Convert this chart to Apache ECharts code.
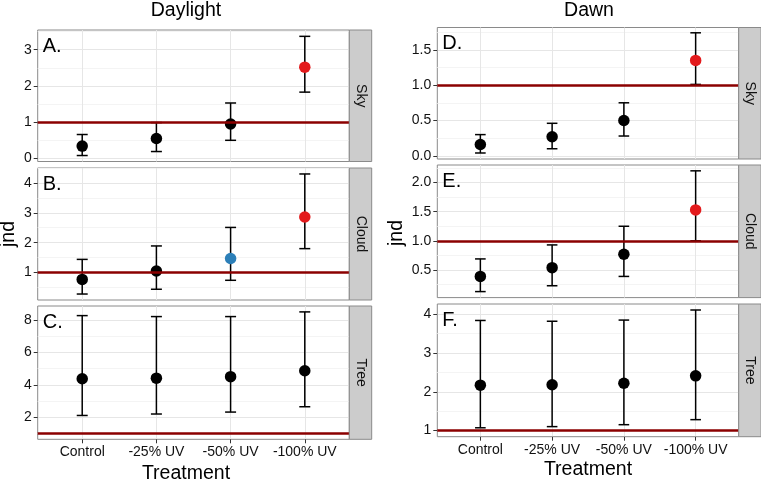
<!DOCTYPE html>
<html>
<head>
<meta charset="utf-8">
<script src="https://cdn.jsdelivr.net/npm/echarts@6/dist/echarts.min.js"></script>
<style>
html,body{margin:0;padding:0;background:#fff;}
#chart{width:761px;height:479px;}
</style>
</head>
<body>
<div id="chart"></div>
<script>
// ---------- data ----------
const categories = ['Control', '-25% UV', '-50% UV', '-100% UV'];
const categoryPos = [1, 2, 3, 4];

// Daylight
const skyDayMean   = [0.34, 0.55, 0.95, 2.52];
const skyDayLo     = [0.08, 0.19, 0.50, 1.83];
const skyDayHi     = [0.66, 0.99, 1.53, 3.37];
const skyDayGroup  = ['ns', 'ns', 'ns', 'above'];

const cloudDayMean  = [0.77, 1.05, 1.47, 2.86];
const cloudDayLo    = [0.28, 0.44, 0.74, 1.80];
const cloudDayHi    = [1.44, 1.89, 2.51, 4.30];
const cloudDayGroup = ['ns', 'ns', 'marginal', 'above'];

const treeDayMean  = [4.37, 4.41, 4.50, 4.87];
const treeDayLo    = [2.10, 2.19, 2.31, 2.64];
const treeDayHi    = [8.28, 8.22, 8.22, 8.51];
const treeDayGroup = ['ns', 'ns', 'ns', 'ns'];

// Dawn
const skyDawnMean  = [0.16, 0.27, 0.50, 1.35];
const skyDawnLo    = [0.04, 0.10, 0.28, 1.01];
const skyDawnHi    = [0.30, 0.46, 0.75, 1.74];
const skyDawnGroup = ['ns', 'ns', 'ns', 'above'];

const cloudDawnMean  = [0.39, 0.54, 0.77, 1.53];
const cloudDawnLo    = [0.13, 0.23, 0.39, 1.00];
const cloudDawnHi    = [0.69, 0.93, 1.25, 2.20];
const cloudDawnGroup = ['ns', 'ns', 'ns', 'above'];

const treeDawnMean  = [2.17, 2.18, 2.22, 2.41];
const treeDawnLo    = [1.07, 1.10, 1.15, 1.28];
const treeDawnHi    = [3.84, 3.82, 3.85, 4.11];
const treeDawnGroup = ['ns', 'ns', 'ns', 'ns'];

// reference line (jnd threshold)
const thresholdValue = 1;

// y tick labels per panel
const skyDayTicks   = [0, 1, 2, 3];
const cloudDayTicks = [1, 2, 3, 4];
const treeDayTicks  = [2, 4, 6, 8];
const skyDawnTicks   = [0, 0.5, 1.0, 1.5];
const cloudDawnTicks = [0.5, 1.0, 1.5, 2.0];
const treeDawnTicks  = [1, 2, 3, 4];

const columnTitles = ['Daylight', 'Dawn'];
const facetNames = ['Sky', 'Cloud', 'Tree'];
const panelLetters = ['A.', 'B.', 'C.', 'D.', 'E.', 'F.'];
const xTitle = 'Treatment';
const yTitle = 'jnd';

// ---------- layout / style ----------
const FONT = 'Liberation Sans, Arial, Helvetica, sans-serif';
const groupColor = { ns: '#000000', above: '#E31A1C', marginal: '#2C7FB8' };

const panels = [
  { mean: skyDayMean, lo: skyDayLo, hi: skyDayHi, grp: skyDayGroup, ticks: skyDayTicks, dec: 0,
    min: -0.085, max: 3.545, box: [37.7, 30, 311.6, 131.5], bottom: false },
  { mean: cloudDayMean, lo: cloudDayLo, hi: cloudDayHi, grp: cloudDayGroup, ticks: cloudDayTicks, dec: 0,
    min: 0.08, max: 4.50, box: [37.7, 168, 311.6, 132], bottom: false },
  { mean: treeDayMean, lo: treeDayLo, hi: treeDayHi, grp: treeDayGroup, ticks: treeDayTicks, dec: 0,
    min: 0.625, max: 8.875, box: [37.7, 306, 311.6, 133.3], bottom: true },
  { mean: skyDawnMean, lo: skyDawnLo, hi: skyDawnHi, grp: skyDawnGroup, ticks: skyDawnTicks, dec: 1,
    min: -0.045, max: 1.815, box: [437.3, 27.5, 301.4, 131.5], bottom: false },
  { mean: cloudDawnMean, lo: cloudDawnLo, hi: cloudDawnHi, grp: cloudDawnGroup, ticks: cloudDawnTicks, dec: 1,
    min: 0.027, max: 2.30, box: [437.3, 165, 301.4, 132.6], bottom: false },
  { mean: treeDawnMean, lo: treeDawnLo, hi: treeDawnHi, grp: treeDawnGroup, ticks: treeDawnTicks, dec: 0,
    min: 0.84, max: 4.265, box: [437.3, 304, 301.4, 132.7], bottom: true }
];

function minorTicks(t) {
  const step = t[1] - t[0];
  const out = [];
  for (let i = -1; i < t.length; i++) {
    const v = (i < 0 ? t[0] - step / 2 : t[i] + step / 2);
    out.push(Math.round(v * 1000) / 1000);
  }
  return out;
}

const grids = [], xAxes = [], yAxes = [], series = [], graphics = [];
const CAP = 0.074;

panels.forEach((p, i) => {
  const [l, t, w, h] = p.box;
  grids.push({ left: l, top: t, width: w, height: h, show: true,
    borderColor: '#8a8a8a', borderWidth: 1, backgroundColor: '#ffffff', containLabel: false });

  xAxes.push({
    gridIndex: i, type: 'value', min: 0.4, max: 4.6,
    axisLine: { show: false },
    axisTick: { show: p.bottom, length: 4, lineStyle: { color: '#333', width: 1 }, customValues: categoryPos },
    axisLabel: { show: p.bottom, customValues: categoryPos, margin: 6,
      fontFamily: FONT, fontSize: 14, color: '#111',
      formatter: v => categories[Math.round(v) - 1] },
    splitLine: { show: true, lineStyle: { color: '#e6e6e6', width: 1 } }
  });

  // major y axis
  yAxes.push({
    gridIndex: i, type: 'value', min: p.min, max: p.max, position: 'left',
    axisLine: { show: false },
    axisTick: { show: true, length: 4, lineStyle: { color: '#333', width: 1 }, customValues: p.ticks },
    axisLabel: { customValues: p.ticks, margin: 6, fontFamily: FONT, fontSize: 14, color: '#111',
      formatter: v => Number(v).toFixed(p.dec) },
    splitLine: { show: true, lineStyle: { color: '#e6e6e6', width: 1 } },
    z: 1
  });
  const majorIdx = yAxes.length - 1;
  // minor y gridlines
  yAxes.push({
    gridIndex: i, type: 'value', min: p.min, max: p.max, position: 'left',
    axisLine: { show: false },
    axisTick: { show: false, customValues: minorTicks(p.ticks) },
    axisLabel: { show: false, customValues: minorTicks(p.ticks) },
    splitLine: { show: true, lineStyle: { color: '#f4f4f4', width: 1 } },
    z: 0
  });

  // threshold line
  series.push({
    type: 'line', xAxisIndex: i, yAxisIndex: majorIdx, data: [], z: 2, silent: true,
    markLine: { silent: true, symbol: ['none', 'none'], label: { show: false },
      lineStyle: { color: '#8B0000', width: 2.6, type: 'solid', opacity: 1 },
      emphasis: { disabled: true },
      data: [{ yAxis: thresholdValue }] }
  });

  // error bars
  series.push({
    type: 'custom', xAxisIndex: i, yAxisIndex: majorIdx, z: 3, silent: true,
    encode: { x: 0, y: [1, 2] },
    data: categoryPos.map((x, k) => [x, p.lo[k], p.hi[k]]),
    renderItem: function (params, api) {
      const x = api.value(0), lo = api.value(1), hi = api.value(2);
      const top = api.coord([x, hi]), bot = api.coord([x, lo]);
      const xl = api.coord([x - CAP, hi])[0], xr = api.coord([x + CAP, hi])[0];
      const st = { stroke: '#000', lineWidth: 1.5 };
      return { type: 'group', children: [
        { type: 'line', shape: { x1: top[0], y1: top[1], x2: bot[0], y2: bot[1] }, style: st },
        { type: 'line', shape: { x1: xl, y1: top[1], x2: xr, y2: top[1] }, style: st },
        { type: 'line', shape: { x1: xl, y1: bot[1], x2: xr, y2: bot[1] }, style: st }
      ] };
    }
  });

  // points
  series.push({
    type: 'scatter', xAxisIndex: i, yAxisIndex: majorIdx, z: 4, silent: true,
    symbol: 'circle', symbolSize: 11.5,
    itemStyle: { opacity: 1 },
    data: categoryPos.map((x, k) => ({ value: [x, p.mean[k]], itemStyle: { color: groupColor[p.grp[k]], opacity: 1 } }))
  });

  // strip
  const stripW = 22.4;
  graphics.push({ type: 'rect', z: 100, shape: { x: l + w, y: t, width: stripW, height: h },
    style: { fill: '#cccccc', stroke: '#8a8a8a', lineWidth: 1 } });
  graphics.push({ type: 'text', z: 101, x: l + w + stripW / 2, y: t + h / 2, rotation: -Math.PI / 2,
    style: { text: facetNames[i % 3], fill: '#111', font: '14px ' + FONT, align: 'center', verticalAlign: 'middle' } });
  // letter
  graphics.push({ type: 'text', z: 101, x: l + 5, y: t + 6,
    style: { text: panelLetters[i], fill: '#000', font: '20px ' + FONT, align: 'left', verticalAlign: 'top' } });
});

// column titles
graphics.push({ type: 'text', z: 101, x: 186, y: 11,
  style: { text: columnTitles[0], fill: '#000', font: '19.5px ' + FONT, align: 'center', verticalAlign: 'middle' } });
graphics.push({ type: 'text', z: 101, x: 589, y: 11,
  style: { text: columnTitles[1], fill: '#000', font: '19.5px ' + FONT, align: 'center', verticalAlign: 'middle' } });
// x titles
graphics.push({ type: 'text', z: 101, x: 186, y: 474,
  style: { text: xTitle, fill: '#000', font: '19.5px ' + FONT, align: 'center', verticalAlign: 'middle' } });
graphics.push({ type: 'text', z: 101, x: 588, y: 470,
  style: { text: xTitle, fill: '#000', font: '19.5px ' + FONT, align: 'center', verticalAlign: 'middle' } });
// y titles
graphics.push({ type: 'text', z: 101, x: 9, y: 234, rotation: Math.PI / 2,
  style: { text: yTitle, fill: '#000', font: '19.5px ' + FONT, align: 'center', verticalAlign: 'middle' } });
graphics.push({ type: 'text', z: 101, x: 397, y: 233, rotation: Math.PI / 2,
  style: { text: yTitle, fill: '#000', font: '19.5px ' + FONT, align: 'center', verticalAlign: 'middle' } });

const chart = echarts.init(document.getElementById('chart'), null, { renderer: 'canvas' });
chart.setOption({
  animation: false,
  backgroundColor: '#ffffff',
  grid: grids,
  xAxis: xAxes,
  yAxis: yAxes,
  series: series,
  graphic: { elements: graphics }
});
</script>
</body>
</html>
